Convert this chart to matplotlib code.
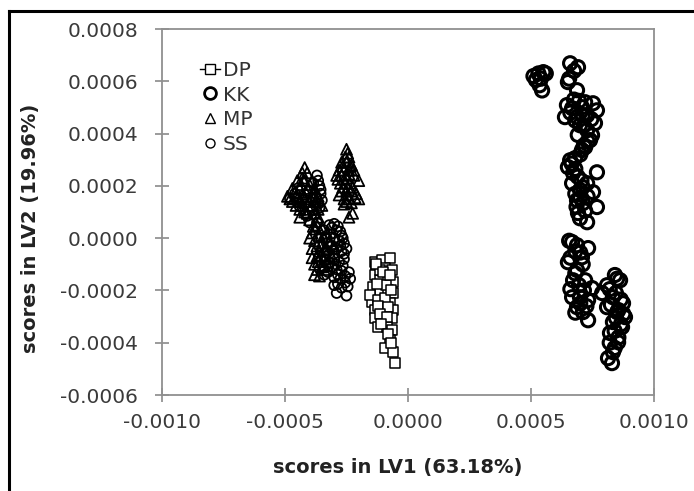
import matplotlib
matplotlib.use("Agg")
import matplotlib.pyplot as plt
from matplotlib.lines import Line2D
from matplotlib.ticker import FormatStrFormatter

plt.rcParams['font.family'] = ['DejaVu Sans']
plt.rcParams['axes.unicode_minus'] = False

# scores, in units of 1e-4
dp_x = [-1.34, -1.06, -0.73, -1.30, -0.93, -0.65, -1.34, -1.14, -0.81, -0.61,
        -1.42, -1.14, -0.81, -0.61, -1.46, -1.06, -0.73, -1.34, -0.93, -0.61,
        -1.34, -1.02, -0.65, -1.22, -0.85, -0.65, -0.73, -0.93, -0.61, -0.53,
        -1.54, -1.22, -0.89, -1.14,
        -1.30, -1.00, -0.75, -1.25, -0.95, -0.70, -1.20, -0.80, -1.15, -0.85,
        -1.10, -0.80, -0.70]
dp_y = [-0.92, -0.84, -0.76, -1.11, -1.15, -1.22, -1.41, -1.61, -1.49, -1.68,
        -1.87, -2.06, -1.99, -2.10, -2.45, -2.49, -2.49, -2.75, -2.83, -2.75,
        -3.06, -3.21, -3.06, -3.40, -3.40, -3.52, -3.90, -4.21, -4.36, -4.78,
        -2.18, -2.37, -1.80, -1.22,
        -1.00, -1.30, -1.40, -1.75, -2.30, -2.00, -2.60, -2.65, -2.90, -3.00,
        -3.30, -3.65, -4.00]

kk_x = [5.1, 5.3, 5.5, 5.2, 5.4, 5.35, 5.45, 5.6,
        6.59, 6.91, 6.50, 6.87, 6.46, 6.67, 7.07, 7.52, 7.68, 6.38, 6.87, 7.28,
        7.60, 6.99, 7.28, 7.48, 7.20, 7.07, 7.40,
        6.75, 6.55, 6.75, 6.95, 7.20, 6.60, 7.10, 7.45, 6.80, 7.15, 6.90, 7.30,
        7.15, 7.00,
        6.59, 6.79, 6.50, 6.71, 7.68, 6.67, 7.28, 6.99, 7.52, 6.87, 7.11, 7.68,
        6.91, 7.28, 6.99,
        6.65, 6.80, 6.90, 7.05, 7.10, 6.80, 7.30, 7.00, 7.20, 6.85,
        6.67, 6.87, 7.32, 7.07, 6.50, 6.87, 6.71, 7.20, 7.48, 6.67, 6.99, 7.32,
        6.87, 7.32, 7.11,
        6.55, 6.80, 7.00, 6.60, 7.10, 6.80, 6.95, 7.15, 6.60, 7.00, 6.80, 7.25,
        8.41, 8.62, 8.09, 7.89, 8.33, 8.74, 8.09, 8.50, 8.82, 8.33, 8.70, 8.21,
        8.54, 8.33, 8.13, 8.29,
        8.50, 8.20, 8.45, 8.65, 8.25, 8.55, 8.75, 8.45, 8.65, 8.40, 8.55, 8.20,
        8.40]
kk_y = [6.2, 6.3, 6.35, 6.05, 6.1, 5.85, 5.65, 6.3,
        6.69, 6.54, 5.97, 5.66, 5.09, 4.97, 5.01, 5.16, 4.89, 4.63, 4.63, 4.70,
        4.40, 4.32, 4.13, 3.94, 3.48, 3.37, 3.75,
        6.40, 6.10, 5.30, 5.25, 5.20, 4.80, 4.70, 4.55, 4.50, 4.30, 3.95, 3.70,
        3.55, 3.20,
        2.98, 3.06, 2.72, 2.49, 2.52, 2.10, 2.10, 1.84, 1.76, 1.45, 1.34, 1.19,
        0.96, 0.61, 0.76,
        2.85, 2.65, 2.35, 2.20, 1.95, 1.70, 1.60, 1.55, 1.05, 1.20,
        -0.15, -0.27, -0.38, -0.73, -0.92, -1.22, -1.61, -1.61, -1.91, -2.26,
        -2.26, -2.37, -2.64, -3.14, -2.83,
        -0.10, -0.50, -0.55, -0.75, -1.00, -1.35, -1.80, -2.00, -1.95, -2.50,
        -2.85, -2.60,
        -1.41, -1.61, -1.80, -2.10, -2.26, -2.49, -2.64, -2.83, -3.02, -3.21,
        -3.40, -3.63, -3.98, -4.36, -4.59, -4.78,
        -1.55, -1.95, -2.10, -2.35, -2.55, -2.75, -2.90, -3.05, -3.30, -3.55,
        -3.80, -4.00, -4.20]

mp_x = [-4.2, -4.3, -4.1, -4.5, -4.2, -3.9, -4.7, -4.4, -4.1, -3.8,
        -4.9, -4.55, -4.25, -3.9, -3.65, -4.7, -4.4, -4.05, -3.75, -4.4,
        -4.0, -3.65, -4.4, -3.65, -3.5, -4.2, -3.9,
        -4.3, -4.0, -4.35, -4.6, -4.15, -3.85, -4.8, -4.5, -4.2, -3.95,
        -4.55, -4.25, -4.1, -3.8, -4.0,
        -2.5, -2.55, -2.4, -2.7, -2.5, -2.3, -2.8, -2.6, -2.4, -2.2,
        -2.9, -2.7, -2.5, -2.2, -2.75, -2.55, -2.35, -2.0, -2.7, -2.5,
        -2.3, -2.1, -2.0, -2.4, -2.6, -2.6, -2.3, -2.4, -2.25,
        -2.45, -2.65, -2.35, -2.85, -2.6, -2.4, -2.65, -2.45, -2.25, -2.8,
        -2.45, -2.15, -2.5,
        -3.7, -3.5, -3.9, -3.6, -3.3, -3.8, -3.5, -3.2, -3.9, -3.6,
        -3.3, -3.0, -3.7, -3.4, -3.1, -3.8, -3.5, -3.6, -3.8, -3.3, -4.0,
        -3.75, -3.45, -3.7, -3.4, -3.55, -3.25, -3.65, -3.4, -3.7, -3.9, -3.85]
mp_y = [2.7, 2.5, 2.5, 2.2, 2.2, 2.2, 1.9, 1.9, 1.9, 1.9,
        1.6, 1.6, 1.6, 1.6, 1.6, 1.4, 1.4, 1.4, 1.4, 1.1,
        1.1, 1.1, 0.8, 0.8, 1.25, 1.0, 1.25,
        2.3, 2.05, 2.05, 1.75, 1.75, 1.75, 1.5, 1.5, 1.5, 1.5,
        1.25, 1.25, 0.95, 0.95, 0.7,
        3.4, 3.1, 3.1, 2.9, 2.9, 2.8, 2.6, 2.6, 2.6, 2.6,
        2.4, 2.4, 2.3, 2.4, 2.1, 2.1, 2.1, 2.2, 1.8, 1.8,
        1.8, 1.7, 1.5, 1.5, 1.5, 1.3, 1.35, 0.8, 0.95,
        3.25, 2.75, 2.75, 2.25, 2.25, 2.45, 1.95, 1.95, 1.95, 1.65,
        1.65, 1.55, 1.4,
        0.5, 0.4, 0.2, 0.1, 0.2, -0.1, -0.2, -0.1, -0.4, -0.5,
        -0.4, -0.3, -0.7, -0.8, -0.7, -1.0, -1.1, -1.45, -1.4, -1.2, 0.0,
        0.35, 0.05, -0.3, -0.45, -0.65, -0.9, -0.9, -1.05, -1.2, -0.75, 0.45]

ss_x = [-3.7, -3.6, -3.55, -3.5, -3.6, -4.4, -4.6, -4.8, -4.0, -4.2,
        -3.8, -4.0, -3.7,
        -3.65, -3.55, -3.75, -3.65, -3.9, -4.3, -4.5, -3.85, -4.1,
        -3.4, -3.1, -2.9, -2.7, -3.0, -2.8, -3.3, -2.6, -2.9, -3.2, -2.7,
        -2.5, -3.0, -2.8, -2.6, -3.1, -2.9, -2.7, -2.4, -3.0, -2.75, -3.0,
        -2.7, -2.9, -2.5, -2.55, -3.4, -3.6,
        -3.2, -3.0, -2.85, -2.75, -2.65, -3.15, -3.35, -3.1, -2.75, -2.6,
        -3.0, -3.35, -3.2, -2.95, -2.65, -3.25, -2.55, -2.85, -2.45, -2.85,
        -2.35]
ss_y = [2.4, 2.0, 1.7, 1.45, 1.15, 1.2, 1.7, 1.5, 1.8, 1.3,
        0.9, 0.6, 0.6,
        2.2, 1.85, 1.55, 1.3, 1.05, 1.45, 1.9, 2.1, 0.85,
        0.3, 0.4, 0.3, 0.1, 0.0, -0.1, -0.2, -0.2, -0.4, -0.6, -0.5,
        -0.4, -0.8, -0.9, -0.8, -1.1, -1.2, -1.25, -1.3, -1.5, -1.55, -1.8,
        -1.9, -2.1, -2.2, -1.7, -1.4, -0.3,
        0.5, 0.55, 0.45, 0.25, 0.0, 0.15, 0.0, -0.3, -0.3, -0.6,
        -0.6, -0.7, -0.95, -1.0, -1.05, -1.3, -1.45, -1.4, -1.85, -1.75,
        -1.55]

x_ticks = [-0.0010, -0.0005, 0.0, 0.0005, 0.0010]
y_ticks = [-0.0006, -0.0004, -0.0002, 0.0, 0.0002, 0.0004, 0.0006, 0.0008]


def sc(v):
    return [a * 1e-4 for a in v]


fig = plt.figure(figsize=(6.94, 4.91), dpi=100)
ax = fig.add_axes([0.2334, 0.1955, 0.7090, 0.7454])

ax.scatter(sc(dp_x), sc(dp_y), marker='s', s=55, facecolors='white',
           edgecolors='black', linewidths=1.1, zorder=3)
ax.scatter(sc(ss_x), sc(ss_y), marker='o', s=50, facecolors='none',
           edgecolors='black', linewidths=1.3, zorder=3)
ax.scatter(sc(mp_x), sc(mp_y), marker='^', s=62, facecolors='none',
           edgecolors='black', linewidths=1.3, zorder=3)
ax.scatter(sc(kk_x), sc(kk_y), marker='o', s=90, facecolors='none',
           edgecolors='black', linewidths=2.2, zorder=3)

ax.set_xlim(-0.0010, 0.0010)
ax.set_ylim(-0.0006, 0.0008)
ax.set_xticks(x_ticks)
ax.set_yticks(y_ticks)
ax.xaxis.set_major_formatter(FormatStrFormatter('%.4f'))
ax.yaxis.set_major_formatter(FormatStrFormatter('%.4f'))
ax.tick_params(direction='inout', length=10, width=1.1, color='#808080',
               labelsize=14.5, labelcolor='#3a3a3a')
ax.tick_params(axis='y', pad=12)
ax.tick_params(axis='x', pad=8)
for sp in ax.spines.values():
    sp.set_color('#909090')
    sp.set_linewidth(1.3)

ax.set_xlabel('scores in LV1 (63.18%)', fontsize=14, fontweight='bold',
              color='#222222')
ax.set_ylabel('scores in LV2 (19.96%)', fontsize=14, fontweight='bold',
              color='#222222')
ax.xaxis.set_label_coords(0.48, -0.197)
ax.yaxis.set_label_coords(-0.268, 0.456)
ax.xaxis.label.set_va('center')
ax.yaxis.label.set_va('center')

handles = [
    Line2D([], [], color='black', lw=1.0, marker='s', markersize=7,
           markerfacecolor='white', markeredgecolor='black'),
    Line2D([], [], ls='none', marker='o', markersize=8.5,
           markerfacecolor='none', markeredgecolor='black', markeredgewidth=2),
    Line2D([], [], ls='none', marker='^', markersize=7,
           markerfacecolor='none', markeredgecolor='black'),
    Line2D([], [], ls='none', marker='o', markersize=6.5,
           markerfacecolor='none', markeredgecolor='black'),
]
ax.legend(handles, ['DP', 'KK', 'MP', 'SS'], loc='upper left',
          bbox_to_anchor=(0.06, 0.935), frameon=False, fontsize=14.5,
          handlelength=1.0, handletextpad=0.15, labelspacing=0.28,
          borderaxespad=0, labelcolor='#333333')

# outer frame (top and left edges visible)
fig.add_artist(Line2D([0.013, 0.013], [0.0, 0.978], color='black', lw=2.2,
                      transform=fig.transFigure))
fig.add_artist(Line2D([0.013, 1.0], [0.978, 0.978], color='black', lw=2.2,
                      transform=fig.transFigure))

fig.savefig('out.png', dpi=100)
